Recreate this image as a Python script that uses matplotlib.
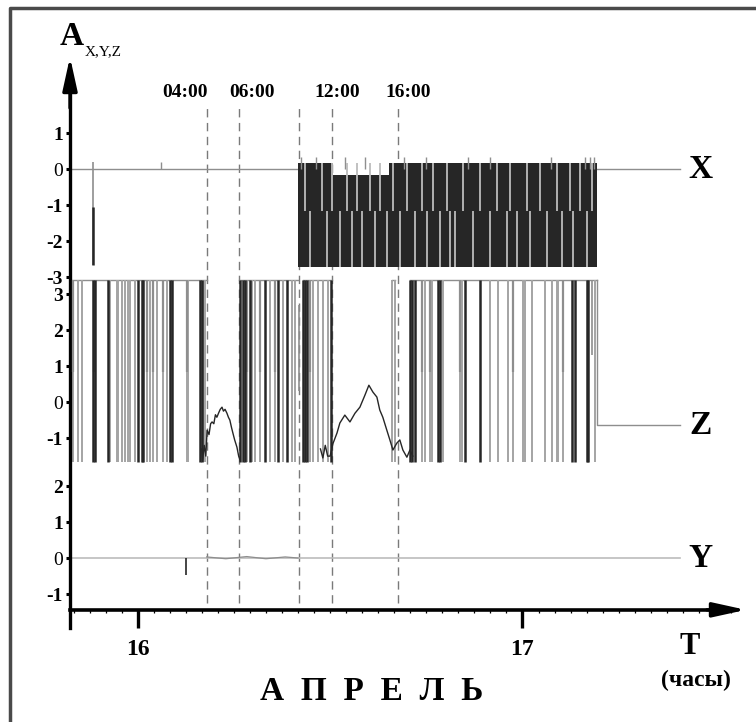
import numpy as np
import matplotlib
matplotlib.use('Agg')
import matplotlib.pyplot as plt
from matplotlib.lines import Line2D
from matplotlib.ticker import MultipleLocator

plt.rcParams['font.family'] = ['Liberation Serif', 'DejaVu Serif']

# time axis: hours counted from 16 April 00:00
day_ticks = [0, 24]
day_labels = ['16', '17']
mark_hours = [4.30, 6.30, 10.04, 12.13, 16.25]
mark_label_hours = [2.95, 7.13, 12.42, 16.85]
mark_labels = ['04:00', '06:00', '12:00', '16:00']

# --- X component ---
x_flat_t = [-4.22, 10.0]
x_tail_t = [28.63, 33.8]
x_spike_t = -2.79
x_spike_gray = [0.2, -2.67]
x_spike_dark = [-1.05, -2.67]
x_bump_t = 1.46
x_bump_v = 0.2
x_band_t = [10.0, 12.2, 15.7, 28.63]
x_band_top = [0.17, -0.17, 0.17, 0.17]
x_band_bot = [-2.72, -2.72, -2.72, -2.72]
x_gap_upper = [10.43, 11.49, 12.11, 13.05, 13.67, 14.48, 15.10, 15.92, 16.79, 17.72,
               18.41, 19.28, 20.28, 21.34, 22.40, 23.21, 24.28, 25.09, 26.14, 26.95,
               27.57, 28.32]
x_gap_lower = [10.74, 11.80, 12.61, 13.36, 13.98, 14.79, 15.54, 16.35, 17.29, 18.04,
               18.85, 19.47, 19.78, 20.90, 21.96, 23.03, 23.65, 24.46, 25.52, 26.45,
               27.14, 28.01]
x_tops = [10.2, 11.1, 12.9, 14.2, 16.6, 18.0, 20.6, 22.0, 25.8, 27.9, 28.2, 28.45]

# --- Z component ---
z_top_segments = [(-4.22, 4.33), (6.30, 10.0), (10.31, 12.13), (15.85, 16.04), (16.98, 28.63)]
z_dark_t = [-2.79, -2.66, -1.85, 0.02, 0.27, 0.33, 2.01, 2.14, 3.88, 4.01, 6.38, 6.57,
            6.69, 7.01, 7.94, 8.75, 9.31, 10.31, 10.43, 10.56, 12.05, 16.98, 17.10,
            17.29, 18.72, 18.85, 20.41, 21.34, 27.08, 27.26, 28.01, 28.08]
z_gray_t = [-4.03, -3.72, -3.47, -1.73, -1.29, -1.23, -0.98, -0.79, -0.60, -0.48, -0.17,
            0.58, 0.77, 0.95, 1.20, 1.58, 1.83, 3.07, 3.14, 4.07, 4.20, 6.81, 7.13, 7.31,
            7.62, 8.25, 8.56, 9.06, 9.62, 9.81, 10.74, 10.93, 11.24, 11.55, 11.86, 15.85,
            16.04, 17.72, 17.91, 18.23, 18.35, 19.03, 20.10, 20.22, 21.96, 22.46, 23.09,
            23.40, 24.02, 24.15, 24.58, 25.39, 25.83, 26.14, 26.20, 26.51, 28.51]
z_upper_dark_t = [-4.03, -2.72, 0.58, 0.95, 1.58, 3.07, 6.81, 7.62, 8.56, 10.74, 17.72,
                  18.23, 20.10, 23.40, 26.51]
z_partial_t = [10.06, 28.32]
z_partial_hi = [2.7, 3.4]
z_partial_lo = [0.3, 1.3]
hump1_t = [4.00, 4.05, 4.15, 4.25, 4.33, 4.45, 4.55, 4.64, 4.75, 4.85, 4.94, 5.05, 5.15,
           5.26, 5.35, 5.45, 5.57, 5.66, 5.75, 5.85, 5.94, 6.05, 6.19, 6.30, 6.38]
hump1_v = [-1.3, -1.6, -1.2, -1.5, -0.78, -0.9, -0.6, -0.55, -0.6, -0.35, -0.42, -0.3,
           -0.2, -0.14, -0.25, -0.2, -0.31, -0.42, -0.5, -0.7, -0.86, -1.05, -1.25, -1.5, -1.6]
hump2_t = [11.40, 11.55, 11.70, 11.85, 12.00, 12.18, 12.43, 12.61, 12.92, 13.24, 13.55,
           13.86, 14.17, 14.42, 14.67, 14.92, 15.10, 15.29, 15.54, 15.73, 15.92, 16.16,
           16.35, 16.54, 16.79, 16.98, 17.16]
hump2_v = [-1.3, -1.55, -1.2, -1.5, -1.5, -1.15, -0.86, -0.58, -0.36, -0.55, -0.31, -0.14,
           0.19, 0.47, 0.28, 0.14, -0.22, -0.42, -0.78, -1.05, -1.33, -1.14, -1.05, -1.33,
           -1.53, -1.33, -1.5]
z_tail_t = [28.63, 28.63, 33.8]
z_tail_v = [3.4, -0.64, -0.64]

# --- Y component ---
y_flat_t = [-4.22, 33.8]
y_noise_t = [4.3, 5.5, 6.8, 8.0, 9.2, 10.0]
y_noise_v = [0.03, -0.02, 0.04, -0.02, 0.03, 0.0]
y_spike_t = 3.01
y_spike_v = -0.46

panel_names = ['X', 'Z', 'Y']
panel_offsets = [10.8, 4.33, 0.0]
panel_ticks = [[1, 0, -1, -2, -3], [3, 2, 1, 0, -1], [2, 1, 0, -1]]

DARK = '#262626'
GRAY = '#8e8e8e'
MID = '#a4a4a4'
LIGHT = '#bcbcbc'
XMIN, XMAX = -4.22, 37.94
YMIN, YMAX = -1.944, 13.917
AXIS_Y = -1.44

fig = plt.figure(figsize=(7.56, 7.22), dpi=100)
ax = fig.add_axes([70 / 756, 94 / 722, 676 / 756, 571 / 722])
ax.set_xlim(XMIN, XMAX)
ax.set_ylim(YMIN, YMAX)

xo, zo, yo = panel_offsets

# dashed time markers
ax.vlines(mark_hours, -1.25, 12.58, colors='#7a7a7a', lw=1.0, linestyles=(0, (6, 4)), zorder=1)
for h, lab in zip(mark_label_hours, mark_labels):
    ax.text(h, 12.94, lab, ha='center', va='center', fontsize=14, weight='bold')

# X panel
ax.plot(x_flat_t, [xo, xo], color=GRAY, lw=1.0, zorder=2)
ax.plot(x_tail_t, [xo, xo], color=GRAY, lw=1.0, zorder=2)
ax.vlines(x_spike_t, xo + x_spike_gray[1], xo + x_spike_gray[0], colors=GRAY, lw=1.2, zorder=2)
ax.vlines(x_spike_t, xo + x_spike_dark[1], xo + x_spike_dark[0], colors=DARK, lw=1.8, zorder=3)
ax.vlines(x_bump_t, xo, xo + x_bump_v, colors=GRAY, lw=1.0, zorder=2)
ax.fill_between(x_band_t, xo + np.array(x_band_bot), xo + np.array(x_band_top),
                step='post', color=DARK, lw=0, zorder=2)
ax.vlines(x_tops, xo, xo + 0.35, colors=GRAY, lw=1.0, zorder=2)
ax.vlines(x_gap_upper, xo - 1.15, xo + 0.17, colors=LIGHT, lw=1.3, zorder=3)
ax.vlines(x_gap_lower, xo - 2.72, xo - 1.15, colors=LIGHT, lw=1.3, zorder=3)

# Z panel
for a, b in z_top_segments:
    ax.plot([a, b], [zo + 3.4, zo + 3.4], color=GRAY, lw=1.0, zorder=2)
ax.vlines(z_gray_t, zo - 1.65, zo + 3.4, colors=MID, lw=1.4, zorder=2)
ax.vlines(z_upper_dark_t, zo + 0.85, zo + 3.4, colors=GRAY, lw=1.6, zorder=3)
ax.vlines(z_dark_t, zo - 1.65, zo + 3.4, colors=DARK, lw=1.8, zorder=3)
ax.vlines(z_partial_t, zo + np.array(z_partial_lo), zo + np.array(z_partial_hi),
          colors=GRAY, lw=1.2, zorder=3)
ax.plot(hump1_t, zo + np.array(hump1_v), color=DARK, lw=1.0, zorder=3)
ax.plot(hump2_t, zo + np.array(hump2_v), color=DARK, lw=1.0, zorder=3)
ax.plot(z_tail_t, zo + np.array(z_tail_v), color=GRAY, lw=1.0, zorder=2)

# Y panel
ax.plot(y_flat_t, [yo, yo], color=LIGHT, lw=1.2, zorder=2)
ax.plot(y_noise_t, yo + np.array(y_noise_v), color=GRAY, lw=0.9, zorder=3)
ax.vlines(y_spike_t, yo + y_spike_v, yo, colors=DARK, lw=1.2, zorder=3)

# component labels
for name, off in zip(panel_names, panel_offsets):
    v = -0.64 if name == 'Z' else 0.0
    ax.text(35.1, off + v, name, ha='center', va='center', fontsize=24, weight='bold')

# axes
for s in ['top', 'right']:
    ax.spines[s].set_visible(False)
ax.spines['left'].set_linewidth(2.4)
ax.spines['left'].set_bounds(YMIN, 13.0)
ax.spines['bottom'].set_position(('data', AXIS_Y))
ax.spines['bottom'].set_linewidth(2.6)
ax.spines['bottom'].set_bounds(XMIN, 36.0)
arrow = dict(arrowstyle='-|>,head_length=1.0,head_width=0.22', color='black', lw=2.4,
             shrinkA=0, shrinkB=0, mutation_scale=20)
ax.annotate('', xy=(XMAX, AXIS_Y), xytext=(35.5, AXIS_Y), arrowprops=arrow, annotation_clip=False)
ax.annotate('', xy=(XMIN, YMAX), xytext=(XMIN, 12.5), arrowprops=arrow, annotation_clip=False)

ax.set_xticks(day_ticks)
ax.set_xticklabels(day_labels, fontsize=17, weight='bold')
ax.xaxis.set_minor_locator(MultipleLocator(1))
ax.tick_params(axis='x', which='major', length=13, width=2.4, direction='out', pad=8)
ax.tick_params(axis='x', which='minor', length=2.5, width=0.9, direction='out')

yt, yl = [], []
for off, ticks in zip(panel_offsets, panel_ticks):
    for v in ticks:
        yt.append(off + v)
        yl.append(str(v))
ax.set_yticks(yt)
ax.set_yticklabels(yl, fontsize=14, weight='bold')
for lab in ax.get_yticklabels():
    if lab.get_text() == '0':
        lab.set_fontweight('normal')
ax.tick_params(axis='y', length=3, width=2.2, direction='out', pad=2)

# headings
fig.text(60 / 756, 1 - 45 / 722, 'A', fontsize=24, weight='bold', va='baseline')
fig.text(85 / 756, 1 - 55 / 722, 'X,Y,Z', fontsize=11, va='baseline')
fig.text(690 / 756, 1 - 647 / 722, 'T', fontsize=22, weight='bold', ha='center', va='center')
fig.text(696 / 756, 1 - 680 / 722, '(часы)', fontsize=17, weight='bold', ha='center', va='center')
fig.text(372 / 756, 1 - 692 / 722, 'А  П  Р  Е  Л  Ь', fontsize=24, weight='bold',
         ha='center', va='center')

# frame
fig.add_artist(Line2D([10 / 756, 10 / 756, 1.0], [0.0, 1 - 8 / 722, 1 - 8 / 722],
                      transform=fig.transFigure, color='#4a4a4a', lw=2.5))

fig.savefig('out.png', dpi=100)
